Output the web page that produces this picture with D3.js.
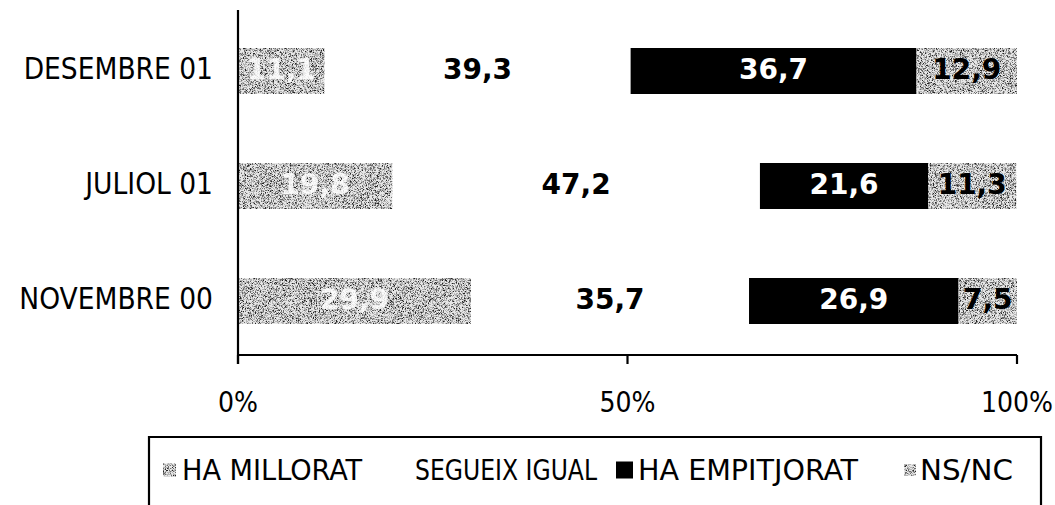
<!DOCTYPE html>
<html>
<head>
<meta charset="utf-8">
<script src="https://cdn.jsdelivr.net/npm/d3@7"></script>
<style>
  html, body { margin: 0; padding: 0; background: #fff; }
  svg { display: block; }
</style>
</head>
<body>
<svg id="chart" width="1055" height="505"></svg>
<script>
// ---- data ----
const categories = ["DESEMBRE 01", "JULIOL 01", "NOVEMBRE 00"];
const seriesNames = ["HA MILLORAT", "SEGUEIX IGUAL", "HA EMPITJORAT", "NS/NC"];
const haMillorat   = [11.1, 19.8, 29.9];
const segueixIgual = [39.3, 47.2, 35.7];
const haEmpitjorat = [36.7, 21.6, 26.9];
const nsNc         = [12.9, 11.3, 7.5];
const tickValues = [0, 50, 100];
const tickLabels = ["0%", "50%", "100%"];

// ---- styles ----
const seriesStyle = [
  { fill: "speckle", text: "#fff" },
  { fill: "none",    text: "#000" },
  { fill: "#000",    text: "#fff" },
  { fill: "speckle", text: "#000" }
];
const condensed = "'DejaVu Sans Condensed', 'DejaVu Sans', sans-serif";
const boldFont = "'DejaVu Sans', sans-serif";

const svg = d3.select("#chart");

// speckle filter
const defs = svg.append("defs");
const f = defs.append("filter").attr("id", "speckle")
  .attr("x", 0).attr("y", 0).attr("width", 1).attr("height", 1)
  .attr("color-interpolation-filters", "sRGB");
f.append("feTurbulence").attr("type", "fractalNoise").attr("baseFrequency", 1.6)
  .attr("numOctaves", 2).attr("seed", 5).attr("result", "noise");
f.append("feColorMatrix").attr("in", "noise").attr("type", "matrix")
  .attr("values", "0 0 0 0 0.1  0 0 0 0 0.1  0 0 0 0 0.1  2.2 0 0 0 -0.8").attr("result", "a");
const ct = f.append("feComponentTransfer").attr("in", "a").attr("result", "dots");
ct.append("feFuncA").attr("type", "discrete").attr("tableValues", "0 0.25 0.6 0.95");
f.append("feFlood").attr("flood-color", "#e6e6e6").attr("result", "bg");
const mg = f.append("feMerge").attr("result", "m");
mg.append("feMergeNode").attr("in", "bg");
mg.append("feMergeNode").attr("in", "dots");
f.append("feComposite").attr("in", "m").attr("in2", "SourceAlpha").attr("operator", "in");

// scales
const x = d3.scaleLinear().domain([0, 100]).range([238, 1017]);
const y = d3.scaleBand().domain(categories).range([13.5, 358.5])
  .paddingInner(0.6).paddingOuter(0.3);

// stacked data
const table = categories.map((c, i) => {
  const vals = [haMillorat[i], segueixIgual[i], haEmpitjorat[i], nsNc[i]];
  const o = { cat: c };
  seriesNames.forEach((s, j) => o[s] = vals[j]);
  return o;
});
const stacked = d3.stack().keys(seriesNames)(table);

const g = svg.append("g");
stacked.forEach((layer, j) => {
  const st = seriesStyle[j];
  const lg = g.append("g");
  lg.selectAll("rect").data(layer).join("rect")
    .attr("x", d => x(d[0]))
    .attr("y", d => y(d.data.cat))
    .attr("width", d => x(d[1]) - x(d[0]))
    .attr("height", y.bandwidth())
    .attr("fill", st.fill === "speckle" ? "#bbb" : st.fill)
    .attr("filter", st.fill === "speckle" ? "url(#speckle)" : null);
  lg.selectAll("text").data(layer).join("text")
    .attr("x", d => (x(d[0]) + x(d[1])) / 2)
    .attr("y", d => y(d.data.cat) + y.bandwidth() / 2 - 2)
    .attr("text-anchor", "middle")
    .attr("dominant-baseline", "central")
    .attr("font-family", boldFont)
    .attr("font-weight", "bold")
    .attr("font-size", 28)
    .attr("fill", st.text)
    .attr("opacity", j === 0 ? 0.85 : 1)
    .text(d => String(d.data[seriesNames[j]]).replace(".", ","));
});

// axes
const axisG = svg.append("g").attr("stroke", "#000").attr("stroke-width", 2.2);
axisG.append("line").attr("x1", x(0)).attr("x2", x(0)).attr("y1", 10).attr("y2", 364);
axisG.append("line").attr("x1", x(0)).attr("x2", x(100)).attr("y1", 355).attr("y2", 355);
tickValues.forEach(t => {
  axisG.append("line").attr("x1", x(t)).attr("x2", x(t)).attr("y1", 355).attr("y2", 364);
});
svg.append("g").selectAll("text").data(tickValues).join("text")
  .attr("x", d => x(d))
  .attr("y", 402)
  .attr("text-anchor", "middle")
  .attr("dominant-baseline", "central")
  .attr("font-family", condensed)
  .attr("font-size", 28)
  .attr("fill", "#000")
  .text((d, i) => tickLabels[i]);

// category labels
svg.append("g").selectAll("text").data(categories).join("text")
  .attr("x", 213)
  .attr("y", d => y(d) + y.bandwidth() / 2 - 2)
  .attr("text-anchor", "end")
  .attr("dominant-baseline", "central")
  .attr("font-family", condensed)
  .attr("font-size", 29.5)
  .attr("fill", "#000")
  .text(d => d);

// legend
const legendItems = [
  { swX: 163, swW: 13, tx: 182, tw: 180 },
  { swX: 396, swW: 13, tx: 415, tw: 182 },
  { swX: 616, swW: 17, tx: 638, tw: 220 },
  { swX: 904, swW: 12, tx: 920, tw: 93 }
];
const lg = svg.append("g");
lg.append("path")
  .attr("d", "M149,510 L149,437 L1041,437 L1041,510")
  .attr("fill", "none").attr("stroke", "#000").attr("stroke-width", 2.2);
seriesNames.forEach((s, j) => {
  const it = legendItems[j];
  const st = seriesStyle[j];
  if (st.fill !== "none") {
    lg.append("rect").attr("x", it.swX).attr("y", 470 - it.swW / 2)
      .attr("width", it.swW).attr("height", it.swW)
      .attr("fill", st.fill === "speckle" ? "#bbb" : st.fill)
      .attr("filter", st.fill === "speckle" ? "url(#speckle)" : null);
  }
  lg.append("text").attr("x", it.tx).attr("y", 470)
    .attr("dominant-baseline", "central")
    .attr("font-family", condensed)
    .attr("font-size", 28)
    .attr("textLength", it.tw)
    .attr("lengthAdjust", "spacingAndGlyphs")
    .attr("fill", "#000")
    .text(s);
});
</script>
</body>
</html>
